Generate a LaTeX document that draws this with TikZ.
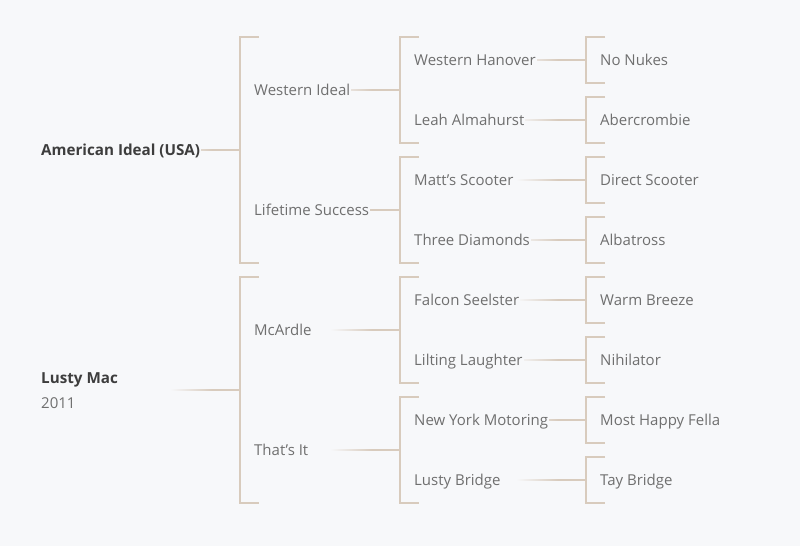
\documentclass[tikz,border=0pt]{standalone}
\usepackage{fontspec}
\setmainfont{Open Sans}
\usetikzlibrary{backgrounds,calc}
\definecolor{pagebg}{HTML}{F7F8FA}
\definecolor{rulecol}{HTML}{D8CBBD}
\definecolor{horsecol}{HTML}{6F6F6F}
\definecolor{subjectcol}{HTML}{3D3D3D}
\tikzset{
  horse/.style={anchor=west, text=horsecol, fill=pagebg, inner xsep=1pt, inner ysep=0pt,
    text height=14.2pt, text depth=3.5pt, font=\fontsize{15}{18}\selectfont},
  subject/.style={horse, text=subjectcol, font=\fontsize{15.2}{18}\selectfont\bfseries},
  bracket/.style={draw=rulecol, line width=1.8pt},
  fadeline/.style={left color=pagebg, right color=rulecol},
}
\begin{document}
\begin{tikzpicture}[x=1pt, y=-1pt]
        \node [subject] (ai) at (40, 150) {American Ideal (USA)};
        \node [subject] (lm) at (40, 378) {Lusty Mac};
        \node [horse] (yr) at (40, 403) {2011};
        \foreach \n/\t/\y in {wi/Western Ideal/90, ls/Lifetime Success/210, mc/McArdle/330, ti/That's It/450}
            \node [horse] (\n) at (253, \y) {\t};
        \foreach \n/\t/\y in {wh/Western Hanover/60, la/Leah Almahurst/120, ms/Matt's Scooter/180, td/Three Diamonds/240,
                fs/Falcon Seelster/300, ll/Lilting Laughter/360, ny/New York Motoring/420, lb/Lusty Bridge/480}
            \node [horse] (\n) at (413, \y) {\t};
        \foreach \n/\t/\y in {nn/No Nukes/60, ab/Abercrombie/120, ds/Direct Scooter/180, al/Albatross/240,
                wb/Warm Breeze/300, nh/Nihilator/360, mh/Most Happy Fella/420, tb/Tay Bridge/480}
            \node [horse] (\n) at (599, \y) {\t};
        \begin{scope}[on background layer]
            \fill [pagebg] (0, 0) rectangle (800, 546);
            % sire lines and brackets
            \foreach \n/\x/\y/\h in {ai/240/150/113, lm/240/390/113, wi/400/90/53, ls/400/210/53, mc/400/330/53, ti/400/450/53,
                    wh/586/60/23, la/586/120/23, ms/586/180/23, td/586/240/23, fs/586/300/23, ll/586/360/23, ny/586/420/23, lb/586/480/23} {
                \coordinate (\n-s) at (\x-70, \y);
                \coordinate (\n-m) at (\x-28, \y);
                \coordinate (\n-b) at (\x, \y);
                \shade [fadeline] ($(\n-s)+(0, -0.9)$) rectangle ($(\n-m)+(0, 0.9)$);
                \draw [bracket] (\n-m) -- (\n-b);
                \draw [bracket] ($(\n-b)+(19, -\h)$) -- ($(\n-b)+(0, -\h)$) -- ($(\n-b)+(0, \h)$) -- ($(\n-b)+(19, \h)$);
            }
        \end{scope}
\end{tikzpicture}
\end{document}
